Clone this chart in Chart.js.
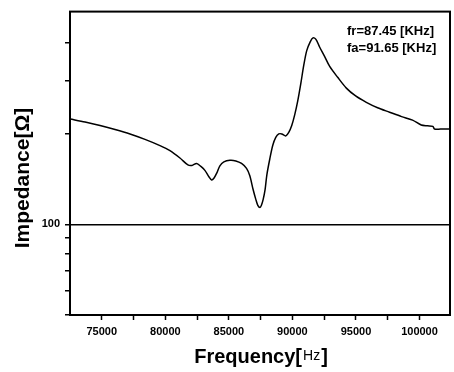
<!DOCTYPE html>
<html>
<head>
<meta charset="utf-8">
<script src="https://cdn.jsdelivr.net/npm/chart.js@4/dist/chart.umd.min.js"></script>
<style>
  body { margin: 0; background: #fff; }
  canvas { display: block; }
</style>
</head>
<body>
<canvas id="impedanceChart" width="454" height="372"></canvas>
<script>
// frecuencia (Hz) e impedancia (ohm)
const frequency = [72510, 73688, 74866, 76045, 77223, 78401, 79580, 80365, 81151, 81779,
  82093, 82462, 82800, 83114, 83428, 83641, 83821, 84057, 84293, 84607,
  85078, 85549, 85997, 86390, 86649, 86908, 87120, 87277, 87450, 87560,
  87700, 87850, 87990, 88220, 88456, 88691, 88927, 89163, 89477, 89713,
  89948, 90184, 90420, 90666, 90891, 91127, 91400, 91620, 91850, 92130,
  92500, 92933, 93561, 94245, 94975, 95816, 96703, 97646, 98589, 99453,
  100136, 100631, 101047, 101181, 101652, 102123, 102400];
const impedance = [223.4, 218.4, 212.7, 206.4, 199.5, 191.4, 182.5, 175.6, 166.0, 157.4,
  156.8, 159.2, 155.6, 151.0, 143.8, 140.3, 142.2, 148.2, 156.2, 161.0,
  163.1, 162.3, 159.2, 153.3, 144.9, 130.4, 121.0, 115.6, 113.7, 115.6,
  121.0, 130.4, 146.0, 164.7, 183.0, 194.3, 199.5, 199.5, 196.5, 201.8,
  212.7, 231.1, 256.7, 294.0, 336.6, 376.9, 403.2, 415.5, 410.9, 388.4,
  363.0, 334.1, 307.5, 283.1, 266.6, 253.9, 243.6, 235.5, 227.7, 221.7,
  213.5, 212.2, 211.4, 207.2, 207.0, 207.0, 207.0];

const xTicks = [75000, 77500, 80000, 82500, 85000, 87500, 90000, 92500, 95000, 97500, 100000];
const yTicks = [50, 60, 70, 80, 90, 100, 200, 300, 400];
const notes = ['fr=87.45 [KHz]', 'fa=91.65 [KHz]'];

const FONT = "'Liberation Sans', Arial, sans-serif";

const decoraciones = {
  id: 'decoraciones',
  afterDraw(chart) {
    const { ctx, chartArea } = chart;
    ctx.save();
    // marco del grafico
    ctx.strokeStyle = '#000';
    ctx.lineWidth = 2;
    ctx.strokeRect(chartArea.left, chartArea.top, chartArea.right - chartArea.left, chartArea.bottom - chartArea.top);

    ctx.fillStyle = '#000';
    // textos fr / fa
    ctx.font = 'bold 13px ' + FONT;
    ctx.textAlign = 'left';
    ctx.textBaseline = 'alphabetic';
    ctx.fillText(notes[0], 347, 35);
    ctx.fillText(notes[1], 347, 52);

    // titulo eje x: Frequency[Hz]
    const bold = 'bold 20px ' + FONT;
    const thin = '14px ' + FONT;
    ctx.font = bold;
    const w1 = ctx.measureText('Frequency[').width;
    const w3 = ctx.measureText(']').width;
    ctx.font = thin;
    const w2 = ctx.measureText('Hz').width;
    let x = (chartArea.left + chartArea.right) / 2 + 1 - (w1 + w2 + w3 + 2) / 2;
    ctx.font = bold;
    ctx.fillText('Frequency[', x, 363);
    x += w1 + 1;
    ctx.font = thin;
    ctx.fillText('Hz', x, 360);
    x += w2 + 1;
    ctx.font = bold;
    ctx.fillText(']', x, 363);

    // titulo eje y
    ctx.translate(23.5, 178);
    ctx.rotate(-Math.PI / 2);
    ctx.font = 'bold 21px ' + FONT;
    ctx.textAlign = 'center';
    ctx.textBaseline = 'middle';
    ctx.fillText('Impedance[Ω]', 0, 0);
    ctx.restore();
  }
};

const ctx = document.getElementById('impedanceChart').getContext('2d');
const chart = new Chart(ctx, {
  type: 'line',
  data: {
    datasets: [{
      data: frequency.map((f, i) => ({ x: f, y: impedance[i] })),
      borderColor: '#000',
      borderWidth: 1.5,
      pointRadius: 0,
      tension: 0.3,
      fill: false
    }]
  },
  options: {
    responsive: false,
    animation: false,
    layout: { padding: { top: 7, right: 4, bottom: 0, left: 0 } },
    plugins: {
      legend: { display: false },
      tooltip: { enabled: false }
    },
    scales: {
      x: {
        type: 'linear',
        min: 72500,
        max: 102400,
        afterFit: scale => { scale.height = 57; },
        afterBuildTicks: scale => { scale.ticks = xTicks.map(v => ({ value: v })); },
        border: { display: false },
        grid: {
          drawOnChartArea: false,
          tickLength: 5,
          tickWidth: 1.5,
          tickColor: '#000'
        },
        ticks: {
          autoSkip: false,
          maxRotation: 0,
          padding: 5,
          color: '#000',
          font: { family: FONT, size: 11, weight: 'bold' },
          callback: v => (v % 5000 === 0 ? String(v) : '')
        }
      },
      y: {
        type: 'logarithmic',
        min: 50,
        max: 508,
        afterFit: scale => { scale.width = 70; },
        afterBuildTicks: scale => { scale.ticks = yTicks.map(v => ({ value: v })); },
        border: { display: false },
        grid: {
          drawOnChartArea: true,
          color: c => (c.tick && c.tick.value === 100 ? '#000' : 'rgba(0,0,0,0)'),
          lineWidth: 1.5,
          tickLength: 5,
          tickWidth: 1.5,
          tickColor: '#000'
        },
        ticks: {
          autoSkip: false,
          padding: 5,
          color: '#000',
          font: { family: FONT, size: 11, weight: 'bold' },
          callback: v => (v === 100 ? '100' : '')
        }
      }
    }
  },
  plugins: [decoraciones]
});
</script>
</body>
</html>
